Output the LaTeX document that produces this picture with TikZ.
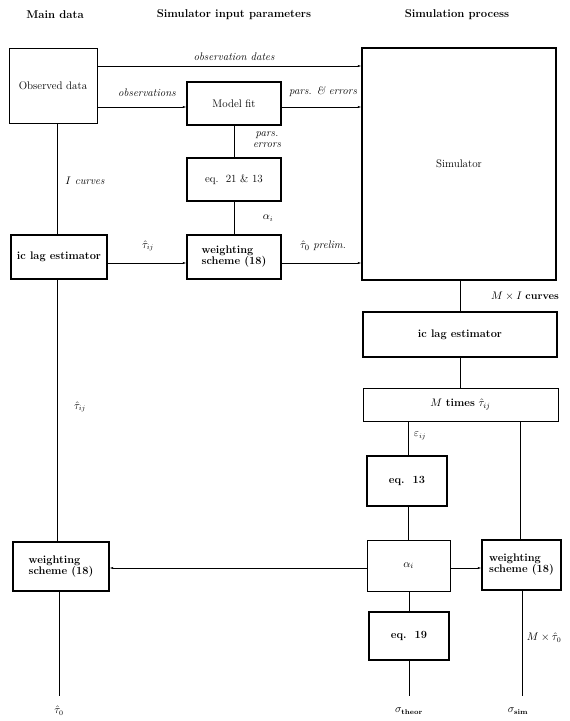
\documentclass[tikz,border=0pt]{standalone}
\usetikzlibrary{arrows.meta}
\begin{document}
\begin{tikzpicture}[x=1pt,y=-1pt,
  every node/.style={font=\fontsize{11}{13}\selectfont},
  hdr/.style={font=\fontsize{11.3}{13}\selectfont\bfseries},
  thickbox/.style={draw,line width=1.3pt,inner sep=0pt,align=center},
  thinbox/.style={draw,line width=0.4pt,inner sep=0pt,align=center},
  conn/.style={line width=0.5pt},
  arr/.style={line width=0.5pt,-{Latex[length=3.5pt,width=2.2pt]}},
  lbl/.style={font=\fontsize{11}{12}\selectfont\itshape,inner sep=1pt,align=center},
  mlbl/.style={font=\fontsize{10.5}{12}\selectfont,inner sep=1pt}]
\useasboundingbox (0,0) rectangle (570,721);
% headers
\node[hdr] (h1) at (55,15) {Main data};
\node[hdr] (h2) at (234,15) {Simulator input parameters};
\node[hdr] (h3) at (457,15) {Simulation process};
% boxes
\node[thinbox,minimum width=88pt,minimum height=75pt] (obs) at (53,85.5) {Observed data};
\node[thickbox,minimum width=94pt,minimum height=43pt] (fit) at (234,103.5) {Model fit};
\node[thickbox,minimum width=194pt,minimum height=232pt] (sim) at (459,164) {Simulator};
\node[thickbox,minimum width=94pt,minimum height=43pt] (eqa) at (234,179.5) {eq.~~21 \& 13};
\node[thickbox,minimum width=96pt,minimum height=44pt] (lagL) at (59,257) {\bfseries ic lag estimator};
\node[thickbox,minimum width=94pt,minimum height=44pt,align=left] (wsM) at (234,257) {\bfseries weighting\\[-2pt]\bfseries scheme (18)};
\node[thickbox,minimum width=194pt,minimum height=45pt] (lagR) at (460,334.5) {\bfseries ic lag estimator};
\node[thinbox,minimum width=195pt,minimum height=33pt] (mt) at (460.5,404.5) {$M$~\textbf{times}~$\hat\tau_{ij}$};
\node[thickbox,minimum width=80pt,minimum height=50pt] (eqb) at (407,481) {\bfseries eq.~~13};
\node[thinbox,minimum width=83pt,minimum height=51pt] (alpha) at (408.5,565.5) {$\alpha_i$};
\node[thickbox,minimum width=96pt,minimum height=49pt,align=left] (wsL) at (61,566.5) {\bfseries weighting\\[-2pt]\bfseries scheme (18)};
\node[thickbox,minimum width=79pt,minimum height=50pt,align=left] (wsR) at (521.5,565) {\bfseries weighting\\[-2pt]\bfseries scheme (18)};
\node[thickbox,minimum width=80pt,minimum height=48pt] (eqc) at (409,636) {\bfseries eq.~~19};
% helper coordinates
\coordinate (ya) at (0,66);
\coordinate (yb) at (0,107);
\coordinate (yc) at (0,263);
\coordinate (yd) at (0,568);
\coordinate (xa) at (57,0);
\coordinate (xb) at (460,0);
\coordinate (xc) at (408,0);
\coordinate (xd) at (520,0);
\coordinate (endL) at (59,696);
\coordinate (endT) at (409,696);
\coordinate (endS) at (522,696);
% connectors
\draw[arr] (obs.east |- ya) -- (sim.west |- ya);
\draw[arr] (obs.east |- yb) -- (fit.west |- yb);
\draw[arr] (fit.east |- yb) -- (sim.west |- yb);
\draw[conn] (fit.south) -- (eqa.north);
\draw[conn] (eqa.south) -- (wsM.north);
\draw[conn] (obs.south -| xa) -- (lagL.north -| xa);
\draw[arr] (lagL.east |- yc) -- (wsM.west |- yc);
\draw[arr] (wsM.east |- yc) -- (sim.west |- yc);
\draw[conn] (sim.south -| xb) -- (lagR.north -| xb);
\draw[conn] (lagR.south -| xb) -- (mt.north -| xb);
\draw[conn] (mt.south -| xc) -- (eqb.north -| xc);
\draw[conn] (eqb.south -| xc) -- (alpha.north -| xc);
\draw[conn] (mt.south -| xd) -- (wsR.north -| xd);
\draw[conn] (lagL.south -| xa) -- (wsL.north -| xa);
\draw[arr] (alpha.west |- yd) -- (wsL.east |- yd);
\draw[arr] (alpha.east |- yd) -- (wsR.west |- yd);
\draw[conn] (alpha.south -| endT) -- (eqc.north -| endT);
\draw[conn] (eqc.south -| endT) -- (endT);
\draw[conn] (wsR.south -| endS) -- (endS);
\draw[conn] (wsL.south -| endL) -- (endL);
% labels
\node[lbl] (l1) at (234,57) {observation dates};
\node[lbl] (l2) at (147,93) {observations};
\node[lbl] (l3) at (323,92) {pars. \& errors};
\node[lbl] (l4) at (267,140) {pars.\\[-1pt]errors};
\node[lbl] (l5) at (85,181) {$I$ curves};
\node[mlbl] (l6) at (268,218) {$\alpha_i$};
\node[mlbl] (l7) at (148,246) {$\hat\tau_{ij}$};
\node[lbl] (l8) at (323,246) {$\hat\tau_0$ prelim.};
\node[mlbl] (l9) at (525,296) {$M\times I$ \textbf{curves}};
\node[mlbl] (l10) at (80,407) {$\hat\tau_{ij}$};
\node[mlbl] (l11) at (420,436) {$\varepsilon_{ij}$};
\node[mlbl] (l12) at (544,638) {$M\times\hat\tau_0$};
\node[mlbl] (l13) at (59,711) {$\hat\tau_0$};
\node[mlbl] (l14) at (409,711) {$\sigma_{\mathbf{theor}}$};
\node[mlbl] (l15) at (518,711) {$\sigma_{\mathbf{sim}}$};
\end{tikzpicture}
\end{document}
